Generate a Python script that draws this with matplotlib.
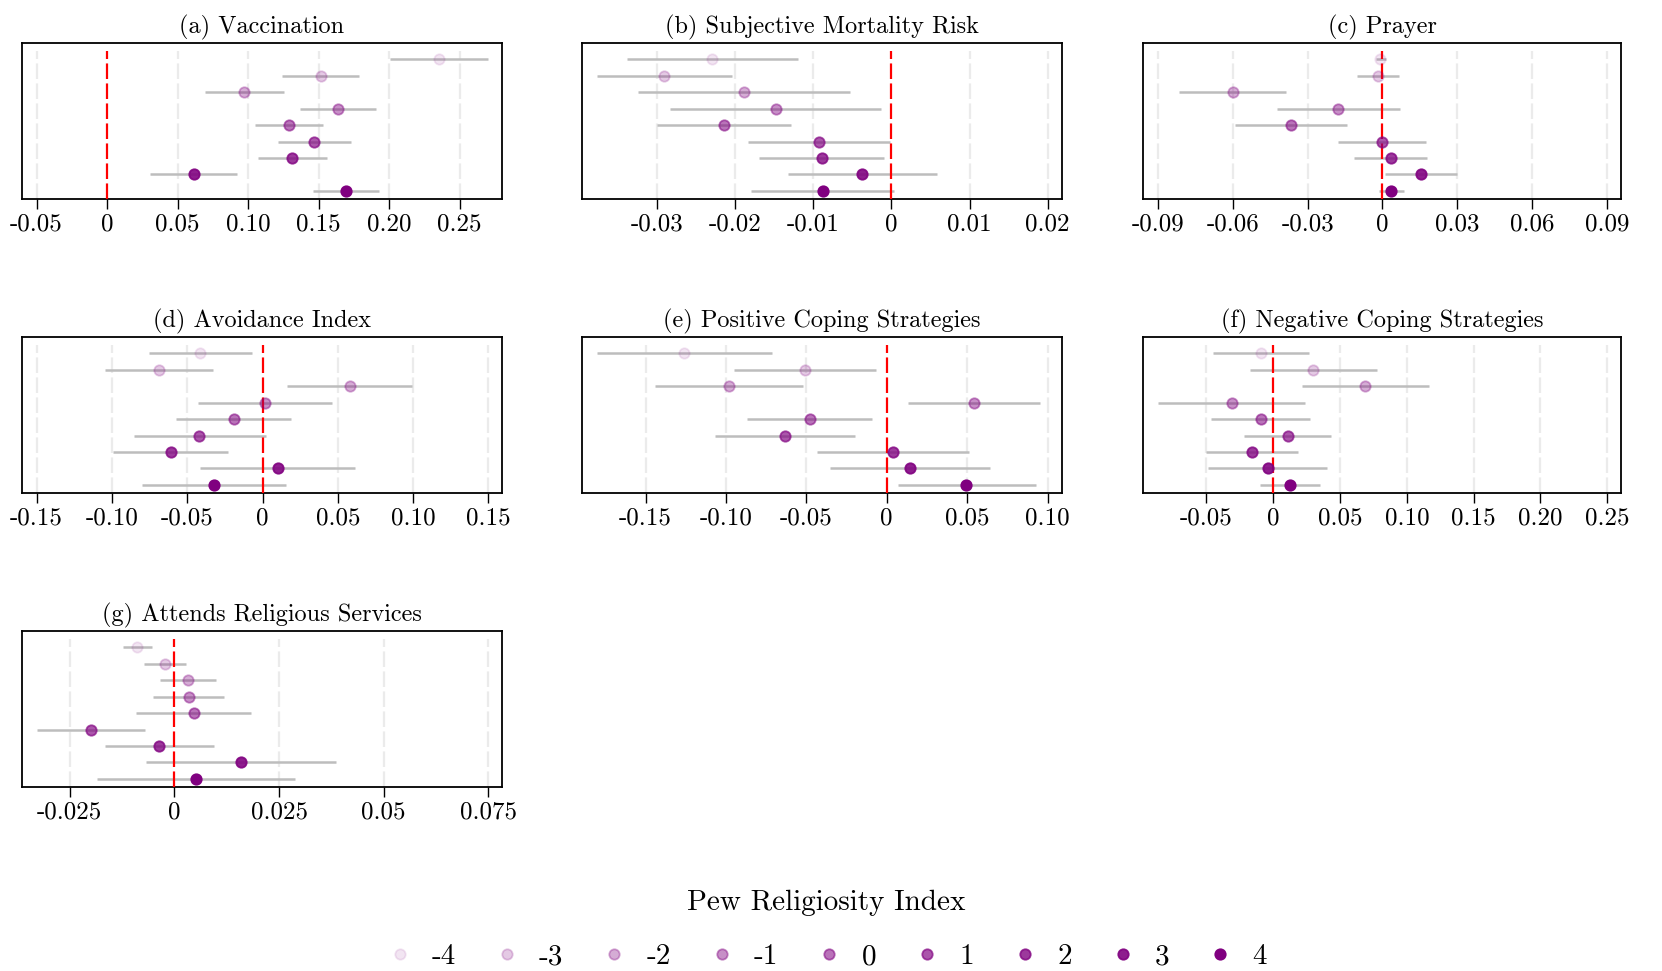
import numpy as np
import matplotlib
matplotlib.use("Agg")
import matplotlib.pyplot as plt
from matplotlib.lines import Line2D

plt.rcParams["font.family"] = ["cmr10", "DejaVu Serif"]
plt.rcParams["axes.formatter.use_mathtext"] = True

# ─── DATA (rows: Pew index -4 .. 4) ──────────────────────────────────────────
pew_levels = [-4, -3, -2, -1, 0, 1, 2, 3, 4]

titles = [
    "(a) Vaccination",
    "(b) Subjective Mortality Risk",
    "(c) Prayer",
    "(d) Avoidance Index",
    "(e) Positive Coping Strategies",
    "(f) Negative Coping Strategies",
    "(g) Attends Religious Services",
]

vacc_est = [0.2355, 0.1515, 0.0974, 0.1636, 0.1293, 0.1470, 0.1314, 0.0617, 0.1697]
vacc_lo  = [0.2005, 0.1243, 0.0693, 0.1366, 0.1052, 0.1213, 0.1071, 0.0307, 0.1459]
vacc_hi  = [0.2700, 0.1787, 0.1255, 0.1908, 0.1530, 0.1733, 0.1558, 0.0924, 0.1931]

mort_est = [-0.0230, -0.02905, -0.01886, -0.0148, -0.02142, -0.00922, -0.00892, -0.00371, -0.00879]
mort_lo  = [-0.0339, -0.03767, -0.03238, -0.02833, -0.02995, -0.0183, -0.01698, -0.01318, -0.01796]
mort_hi  = [-0.01195, -0.02039, -0.00525, -0.00128, -0.01288, -0.0002, -0.00094, 0.0058, 0.00038]

pray_est = [-0.0009, -0.0020, -0.0601, -0.0178, -0.0368, 0.0000, 0.0033, 0.0153, 0.0036]
pray_lo  = [-0.0028, -0.0103, -0.0814, -0.0423, -0.0590, -0.0179, -0.0115, 0.0009, -0.0015]
pray_hi  = [0.0013, 0.0067, -0.0388, 0.0071, -0.0144, 0.0176, 0.0180, 0.0300, 0.0085]

avoid_est = [-0.0414, -0.0689, 0.0578, 0.0016, -0.0190, -0.0419, -0.0611, 0.0102, -0.0323]
avoid_lo  = [-0.0751, -0.1045, 0.0164, -0.0430, -0.0576, -0.0855, -0.0994, -0.0412, -0.0802]
avoid_hi  = [-0.0071, -0.0332, 0.0994, 0.0463, 0.0190, 0.0024, -0.0226, 0.0616, 0.0153]

pos_est = [-0.1258, -0.0510, -0.0978, 0.0541, -0.0479, -0.0630, 0.0039, 0.0143, 0.0495]
pos_lo  = [-0.1801, -0.0949, -0.1439, 0.0133, -0.0871, -0.1066, -0.0433, -0.0354, 0.0073]
pos_hi  = [-0.0711, -0.0066, -0.0520, 0.0951, -0.0091, -0.0197, 0.0512, 0.0643, 0.0927]

neg_est = [-0.0092, 0.0297, 0.0688, -0.0312, -0.0095, 0.0110, -0.0157, -0.0040, 0.0125]
neg_lo  = [-0.0451, -0.0177, 0.0212, -0.0860, -0.0464, -0.0217, -0.0504, -0.0489, -0.0100]
neg_hi  = [0.0267, 0.0778, 0.1165, 0.0234, 0.0274, 0.0434, 0.0185, 0.0404, 0.0349]

att_est = [-0.00893, -0.00231, 0.00335, 0.00343, 0.00463, -0.02002, -0.00359, 0.01595, 0.00518]
att_lo  = [-0.01236, -0.00734, -0.00351, -0.00502, -0.00909, -0.03286, -0.01651, -0.00678, -0.0185]
att_hi  = [-0.00542, 0.00271, 0.01005, 0.01188, 0.01842, -0.00702, 0.00941, 0.03868, 0.02871]

estimates = [vacc_est, mort_est, pray_est, avoid_est, pos_est, neg_est, att_est]
lows      = [vacc_lo, mort_lo, pray_lo, avoid_lo, pos_lo, neg_lo, att_lo]
highs     = [vacc_hi, mort_hi, pray_hi, avoid_hi, pos_hi, neg_hi, att_hi]

ticks = [
    [-0.05, 0, 0.05, 0.10, 0.15, 0.20, 0.25],
    [-0.03, -0.02, -0.01, 0, 0.01, 0.02],
    [-0.09, -0.06, -0.03, 0, 0.03, 0.06, 0.09],
    [-0.15, -0.10, -0.05, 0, 0.05, 0.10, 0.15],
    [-0.15, -0.10, -0.05, 0, 0.05, 0.10],
    [-0.05, 0, 0.05, 0.10, 0.15, 0.20, 0.25],
    [-0.025, 0, 0.025, 0.05, 0.075],
]
tick_labels = [
    ["-0.05", "0", "0.05", "0.10", "0.15", "0.20", "0.25"],
    ["-0.03", "-0.02", "-0.01", "0", "0.01", "0.02"],
    ["-0.09", "-0.06", "-0.03", "0", "0.03", "0.06", "0.09"],
    ["-0.15", "-0.10", "-0.05", "0", "0.05", "0.10", "0.15"],
    ["-0.15", "-0.10", "-0.05", "0", "0.05", "0.10"],
    ["-0.05", "0", "0.05", "0.10", "0.15", "0.20", "0.25"],
    ["-0.025", "0", "0.025", "0.05", "0.075"],
]
xlims = [
    (-0.0603, 0.2800),
    (-0.0396, 0.02184),
    (-0.0960, 0.0956),
    (-0.1597, 0.1590),
    (-0.1895, 0.1090),
    (-0.0975, 0.2603),
    (-0.03644, 0.0783),
]

# ─── STYLE ───────────────────────────────────────────────────────────────────
PURPLE = "#800080"
alphas = np.linspace(0.1, 1.0, len(pew_levels))
W, H = 1662, 971
col_left = [22, 582, 1143]
col_w = [480, 480, 478]
row_top = [43, 337, 631]
ax_h = 156

fig = plt.figure(figsize=(W / 100, H / 100), dpi=100)

ypos = np.arange(len(pew_levels))[::-1]  # -4 on top

for k in range(7):
    r, c = divmod(k, 3)
    ax = fig.add_axes([col_left[c] / W, 1 - (row_top[r] + ax_h) / H,
                       col_w[c] / W, ax_h / H])
    ax.set_xlim(*xlims[k])
    ax.set_ylim(-0.5, 9)
    for t in ticks[k]:
        if t != 0:
            ax.plot([t, t], [-0.5, 8.5], color="#ebebeb", lw=1.6,
                    dashes=(7, 2), zorder=1)
    est, lo, hi = estimates[k], lows[k], highs[k]
    for i in range(len(pew_levels)):
        ax.plot([lo[i], hi[i]], [ypos[i], ypos[i]], color="#bdbdbd",
                lw=1.8, solid_capstyle="butt", zorder=2)
    ax.plot([0, 0], [-0.5, 8.5], color="red", lw=1.6, dashes=(7, 2), zorder=3)
    for i in range(len(pew_levels)):
        ax.plot(est[i], ypos[i], "o", color=PURPLE, alpha=alphas[i],
                markersize=7.5, markeredgewidth=1.3, zorder=4)
    ax.set_xticks(ticks[k])
    ax.set_xticklabels(tick_labels[k], fontsize=18)
    ax.set_yticks([])
    ax.tick_params(axis="x", length=7, width=1, pad=3)
    for s in ax.spines.values():
        s.set_linewidth(1.3)
    ax.set_title(titles[k], fontsize=17.5, pad=7)

handles = [Line2D([], [], marker="o", linestyle="", color=PURPLE, alpha=a,
                  markersize=7.5, markeredgewidth=1.3) for a in alphas]
leg = fig.legend(handles, [str(p) for p in pew_levels], loc="center",
                 bbox_to_anchor=(0.497, 1 - 930 / H), ncol=9, frameon=False,
                 title="Pew Religiosity Index", fontsize=21, title_fontsize=21,
                 handlelength=1.0, handletextpad=0.6, columnspacing=1.25)
leg._legend_box.sep = 20

fig.savefig("out.png", dpi=100)
